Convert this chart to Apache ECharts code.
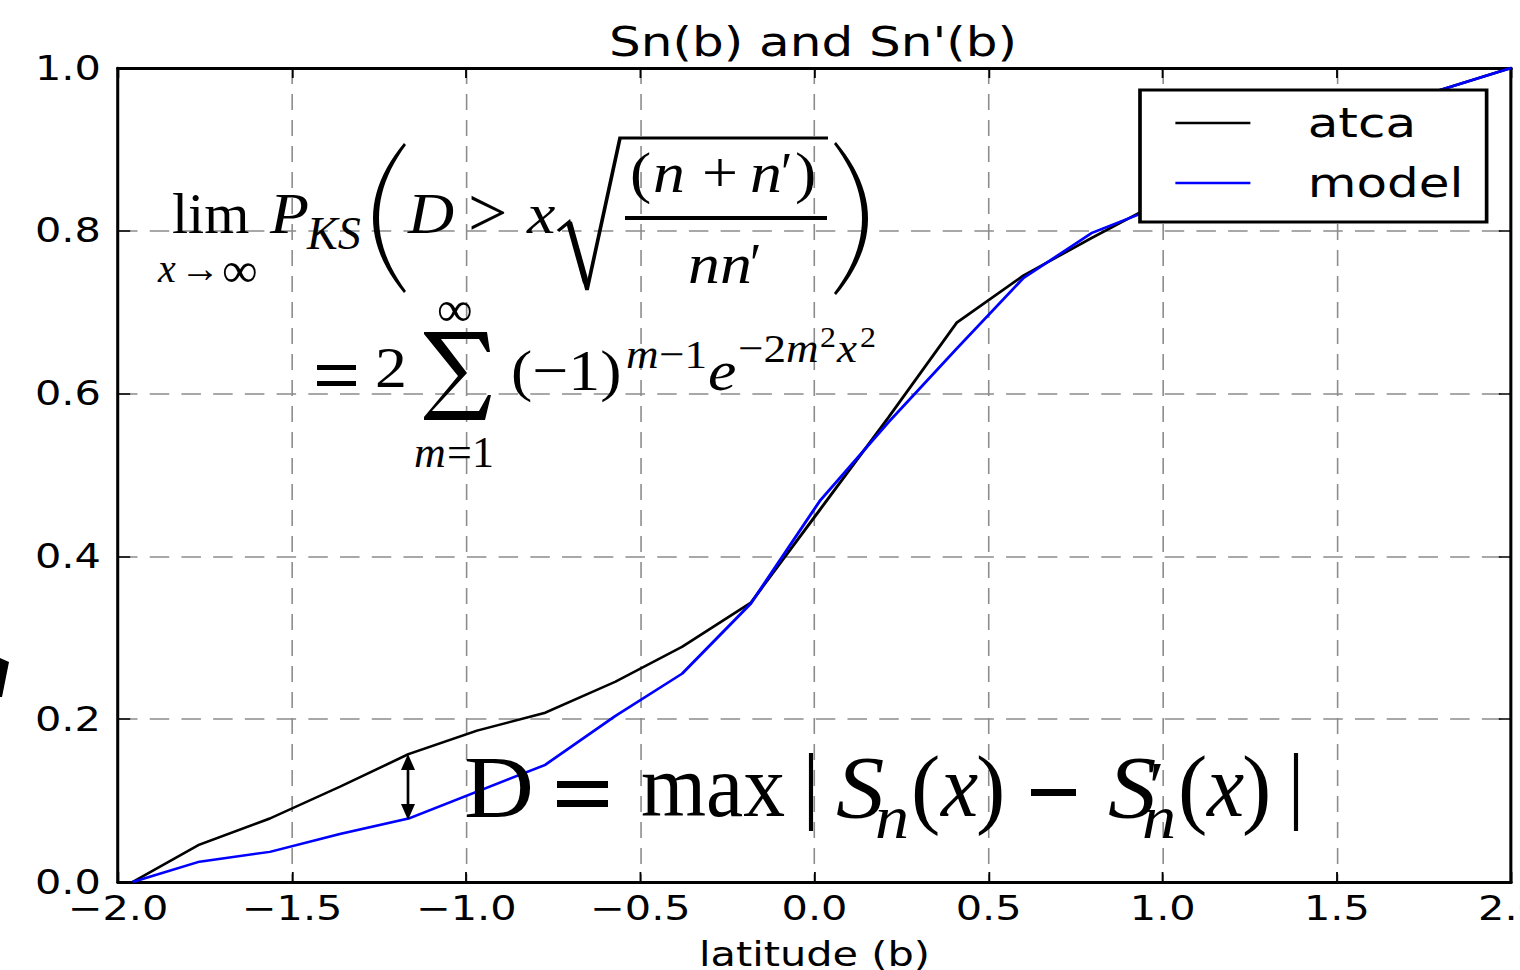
<!DOCTYPE html>
<html>
<head>
<meta charset="utf-8">
<script src="https://cdn.jsdelivr.net/npm/echarts@6/dist/echarts.min.js"></script>
<style>
  html, body { margin: 0; padding: 0; width: 1520px; height: 970px; overflow: hidden; background: #fff; }
  /* the reference is a horizontally stretched screenshot, so the chart is drawn narrower and stretched */
  #main { width: 1246px; height: 970px; transform: scaleX(1.21990); transform-origin: 0 0; }
</style>
</head>
<body>
<div id="main"></div>
<script>
// data
var seriesNames = ["atca", "model"];
var xAtca = [-1.958, -1.766, -1.564, -1.363, -1.166, -0.969, -0.773, -0.572, -0.380, -0.183, 0.015, 0.213, 0.408, 0.600, 0.795, 0.990, 1.190, 1.390, 1.590, 1.790, 2.000];
var yAtca = [0.000, 0.046, 0.078, 0.117, 0.157, 0.186, 0.208, 0.246, 0.289, 0.343, 0.457, 0.571, 0.687, 0.745, 0.791, 0.835, 0.870, 0.905, 0.937, 0.972, 1.000];
var xModel = [-1.958, -1.766, -1.564, -1.363, -1.166, -0.969, -0.773, -0.572, -0.380, -0.183, 0.015, 0.213, 0.408, 0.600, 0.795, 0.990, 1.190, 1.390, 1.590, 1.790, 2.000];
var yModel = [0.000, 0.025, 0.037, 0.059, 0.078, 0.111, 0.144, 0.204, 0.256, 0.342, 0.468, 0.565, 0.655, 0.742, 0.797, 0.830, 0.865, 0.900, 0.935, 0.972, 1.000];
var xTicks = [-2.0, -1.5, -1.0, -0.5, 0.0, 0.5, 1.0, 1.5, 2.0];
var xTickLabels = ["\u22122.0", "\u22121.5", "\u22121.0", "\u22120.5", "0.0", "0.5", "1.0", "1.5", "2.0"];
var yTicks = [0.0, 0.2, 0.4, 0.6, 0.8, 1.0];
var yTickLabels = ["0.0", "0.2", "0.4", "0.6", "0.8", "1.0"];

var S = 1520 / 1246;          // horizontal stretch of the page
function X(px) { return px / S; }  // screen x -> chart x

function pick(ticks, labels) {
  return function (v) {
    for (var i = 0; i < ticks.length; i++) {
      if (Math.abs(ticks[i] - v) < 1e-6) return labels[i];
    }
    return "";
  };
}

function pairs(xs, ys) {
  return xs.map(function (x, i) { return [x, ys[i]]; });
}

// one piece of the formulas: left edge and baseline in screen pixels
function word(str, left, base, size, italic, sx) {
  return {
    type: "text",
    x: X(left),
    y: base - 0.34 * size,
    scaleX: (sx || 1.1) / S,
    z: 100,
    silent: true,
    style: {
      text: str,
      font: (italic ? "italic " : "") + size + 'px "Liberation Serif"',
      fill: "#000",
      align: "left", verticalAlign: "middle",
      textAlign: "left", textVerticalAlign: "middle"
    }
  };
}

function poly(points, fill) {
  return {
    type: "polygon", z: 100, silent: true,
    shape: { points: points.map(function (p) { return [X(p[0]), p[1]]; }) },
    style: { fill: fill || "#000" }
  };
}

function bar(x0, x1, y0, y1) {
  return poly([[x0, y0], [x1, y0], [x1, y1], [x0, y1]]);
}

function stroke(points, w) {
  return {
    type: "polyline", z: 100, silent: true,
    shape: { points: points.map(function (p) { return [X(p[0]), p[1]]; }) },
    style: { stroke: "#000", lineWidth: w, fill: null }
  };
}

// crescent shaped big parenthesis: outer curve through x1, inner through xi
function paren(x0, x1, xi, y0, y1) {
  var ym = (y0 + y1) / 2;
  var step = x0 < x1 ? -2 : 2;
  var pts = [];
  var n = 24, t, a, b;
  for (var i = 0; i <= n; i++) {
    t = i / n;
    a = (1 - t) * (1 - t); b = 2 * t * (1 - t);
    pts.push([a * x0 + b * x1 + t * t * x0, a * y0 + b * ym + t * t * y1]);
  }
  for (var j = n; j >= 0; j--) {
    t = j / n;
    a = (1 - t) * (1 - t); b = 2 * t * (1 - t);
    pts.push([a * (x0 + step) + b * xi + t * t * (x0 + step), a * (y0 + 2) + b * ym + t * t * (y1 - 2)]);
  }
  return poly(pts);
}

var formula = [
  // line 1
  word("lim", 172, 233, 58, false, 1.0),
  word("x", 158, 282, 40, true, 1.0),
  word("\u2192", 180, 282, 40, false, 1.0),
  word("\u221e", 222, 287, 50, false, 1.0),
  word("P", 270, 233, 58, true),
  word("KS", 307, 249, 46, true, 1.0),
  paren(404, 342, 352, 143, 293),
  word("D", 408, 233, 58, true),
  word(">", 468, 236, 70, false, 1.0),
  word("x", 527, 233, 58, true),
  stroke([[558, 231], [569, 222], [587, 290], [620, 138], [828, 138]], 3),
  stroke([[569, 222], [586, 283]], 5),
  word("(", 630, 192, 58, false),
  word("n", 653, 192, 58, true),
  word("+", 702, 192, 58, false),
  word("n", 750, 192, 58, true),
  word("\u2032", 781, 192, 58, false, 0.9),
  word(")", 795, 192, 58, false),
  bar(625, 827, 216, 220),
  word("nn", 688, 283, 58, true),
  word("\u2032", 750, 283, 58, false, 0.9),
  paren(836, 900, 890, 142, 295),
  // line 2
  bar(317, 356, 365, 370),
  bar(317, 356, 381, 386),
  word("2", 375, 387, 58, false),
  poly([[424, 332], [487, 332], [490, 352], [487, 352], [479, 339], [441, 339], [467, 373], [432, 411],
        [479, 411], [488, 395], [491, 395], [485, 420], [424, 420], [424, 417], [458, 376], [424, 334]]),
  word("\u221e", 437, 326, 50, false, 1.0),
  word("m", 414, 467, 44, true, 1.0),
  word("=", 447, 467, 44, false, 1.0),
  word("1", 472, 467, 44, false, 1.0),
  word("(\u22121)", 511, 390, 58, false),
  word("m", 626, 368, 41, true),
  word("\u22121", 659, 368, 41, false),
  word("e", 708, 390, 58, true),
  word("\u22122", 738, 362, 41, false),
  word("m", 786, 362, 41, true),
  word("2", 820, 347, 29, false),
  word("x", 837, 362, 41, true),
  word("2", 860, 347, 29, false),
  // line 3
  word("D", 464, 817, 88, false),
  bar(557, 608, 781, 788),
  bar(557, 608, 800, 807),
  word("max", 641, 817, 88, false, 0.95),
  stroke([[811, 753], [811, 831]], 3.4),
  word("S", 836, 817, 88, true),
  word("n", 875, 838, 62, true),
  word("(", 911, 817, 88, false, 1.0),
  word("x", 941, 817, 88, true, 0.95),
  word(")", 976, 817, 88, false, 1.0),
  bar(1031, 1076, 789, 796),
  word("S", 1108, 817, 88, true),
  word("\u2032", 1149, 810, 70, false, 1.0),
  word("n", 1142, 838, 62, true),
  word("(", 1178, 817, 88, false, 1.0),
  word("x", 1207, 817, 88, true, 0.95),
  word(")", 1242, 817, 88, false, 1.0),
  stroke([[1296, 753], [1296, 831]], 3.4),
  // double arrow
  stroke([[408, 766], [408, 808]], 2.2),
  poly([[408, 754], [401, 770], [415, 770]]),
  poly([[408, 820], [401, 804], [415, 804]]),
  // cut off glyph at the left edge
  poly([[0, 658], [9, 662], [2, 697], [0, 697]])
];

var myChart = echarts.init(document.getElementById("main"), null, { renderer: "svg" });

var font = "DejaVu Sans";
var gridDash = [16, 10];

var option = {
  animation: false,
  title: {
    text: "Sn(b) and Sn'(b)",
    left: X(813),
    top: 20,
    textAlign: "center",
    padding: 0,
    textStyle: { fontFamily: font, fontSize: 41, fontWeight: "normal", color: "#000", lineHeight: 44 }
  },
  legend: {
    data: seriesNames,
    orient: "vertical",
    left: X(1140),
    top: 90,
    padding: [11, 19, 17, 29],
    icon: "rect",
    itemWidth: X(1250) - X(1175),
    itemHeight: 2.5,
    itemGap: 16,
    backgroundColor: "#fff",
    borderColor: "#000",
    borderWidth: 3,
    borderRadius: 0,
    selectedMode: false,
    textStyle: { fontFamily: font, fontSize: 41, color: "#000", lineHeight: 44, padding: [0, 0, 0, 42] }
  },
  grid: {
    left: X(118),
    top: 68,
    width: X(1511) - X(118),
    height: 814,
    containLabel: false,
    outerBoundsMode: "none"
  },
  xAxis: [
    {
      type: "value",
      min: -2,
      max: 2,
      interval: 0.5,
      position: "bottom",
      name: "latitude (b)",
      nameLocation: "middle",
      nameGap: 55,
      nameTextStyle: { fontFamily: font, fontSize: 34, color: "#000" },
      axisLine: { onZero: false, lineStyle: { color: "#000", width: 3 } },
      axisTick: { inside: true, length: 10, lineStyle: { color: "#000", width: 1.5 } },
      axisLabel: { margin: 15, lineHeight: 22, fontFamily: font, fontSize: 34, color: "#000", formatter: pick(xTicks, xTickLabels) },
      splitLine: { show: true, lineStyle: { color: "#8c8c8c", width: 1.3, type: gridDash } }
    },
    {
      type: "value",
      min: -2,
      max: 2,
      interval: 0.5,
      position: "top",
      axisLine: { onZero: false, lineStyle: { color: "#000", width: 3 } },
      axisTick: { inside: true, length: 10, lineStyle: { color: "#000", width: 1.5 } },
      axisLabel: { show: false },
      splitLine: { show: false }
    }
  ],
  yAxis: [
    {
      type: "value",
      min: 0,
      max: 1,
      interval: 0.2,
      position: "left",
      axisLine: { onZero: false, lineStyle: { color: "#000", width: 2.5 } },
      axisTick: { inside: true, length: 10, lineStyle: { color: "#000", width: 1.5 } },
      axisLabel: { margin: 14, lineHeight: 22, fontFamily: font, fontSize: 34, color: "#000", formatter: pick(yTicks, yTickLabels) },
      splitLine: { show: true, lineStyle: { color: "#8c8c8c", width: 1.5, type: gridDash } }
    },
    {
      type: "value",
      min: 0,
      max: 1,
      interval: 0.2,
      position: "right",
      axisLine: { onZero: false, lineStyle: { color: "#000", width: 2.5 } },
      axisTick: { inside: true, length: 10, lineStyle: { color: "#000", width: 1.5 } },
      axisLabel: { show: false },
      splitLine: { show: false }
    }
  ],
  series: [
    {
      name: seriesNames[0],
      type: "line",
      data: pairs(xAtca, yAtca),
      symbol: "none",
      silent: true,
      lineStyle: { color: "#000", width: 2.5 },
      itemStyle: { color: "#000" },
      z: 2
    },
    {
      name: seriesNames[1],
      type: "line",
      data: pairs(xModel, yModel),
      symbol: "none",
      silent: true,
      lineStyle: { color: "#0000ff", width: 2.5 },
      itemStyle: { color: "#0000ff" },
      z: 3
    }
  ],
  graphic: { elements: formula }
};

myChart.setOption(option);
</script>
</body>
</html>
